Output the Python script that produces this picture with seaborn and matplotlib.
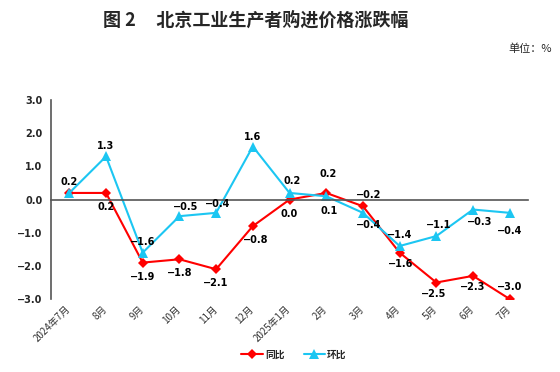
import matplotlib
matplotlib.use("Agg")
import matplotlib.pyplot as plt
import matplotlib.transforms as mtransforms
import seaborn as sns
import pandas as pd

categories = ["2024年7月", "8月", "9月", "10月", "11月", "12月", "2025年1月",
              "2月", "3月", "4月", "5月", "6月", "7月"]
yoy = [0.2, 0.2, -1.9, -1.8, -2.1, -0.8, 0.0, 0.2, -0.2, -1.6, -2.5, -2.3, -3.0]
mom = [0.2, 1.3, -1.6, -0.5, -0.4, 1.6, 0.2, 0.1, -0.4, -1.4, -1.1, -0.3, -0.4]

# label offsets in pixels (dx, dy) for each point
yoy_off = [(0, 11), (0, -14), (0, -14), (0, -14), (0, -14), (3, -14), (0, -14),
           (2, 19), (6, 11), (1, -11), (-3, -11), (0, -11), (0, 12)]
mom_off = [(0, 11), (0, 10), (0, 11), (6, 9), (2, 9), (0, 10), (3, 12),
           (3, -15), (6, -12), (0, 11), (2, 11), (7, -12), (0, -18)]

sns.set_theme(style="white")
plt.rcParams['font.family'] = ['Noto Sans CJK SC', 'DejaVu Sans']

df = pd.DataFrame({"x": list(range(len(categories))) * 2,
                   "v": yoy + mom,
                   "s": ["同比"] * len(yoy) + ["环比"] * len(mom)})

fig = plt.figure(figsize=(5.6, 3.72), dpi=100)
ax = fig.add_axes([0.091, 0.196, 0.852, 0.535])

red = "#FF0000"
cyan = "#1CC6F2"
sns.lineplot(data=df, x="x", y="v", hue="s", style="s",
             palette={"同比": red, "环比": cyan},
             markers={"同比": "D", "环比": "^"}, dashes=False,
             linewidth=1.5, ax=ax, legend=False,
             markeredgewidth=0)
for ln in ax.lines:
    if ln.get_marker() == "D":
        ln.set_markersize(5)
    else:
        ln.set_markersize(7)

ax.set_xlim(-0.5, len(categories) - 0.5)
ax.set_ylim(-3, 3)
ax.set_yticks([-3, -2, -1, 0, 1, 2, 3])
ax.set_yticklabels([f"{v:.1f}".replace("-", "−") for v in [-3, -2, -1, 0, 1, 2, 3]],
                   fontsize=7, fontweight="bold", family="DejaVu Sans")
ax.set_xlabel("")
ax.set_ylabel("")

for sp in ["top", "right"]:
    ax.spines[sp].set_visible(False)
ax.spines["left"].set_color("#555555")
ax.spines["left"].set_linewidth(1.2)
ax.spines["bottom"].set_position(("data", 0))
ax.spines["bottom"].set_color("#555555")
ax.spines["bottom"].set_linewidth(1.2)
ax.tick_params(axis="y", direction="inout", length=4, width=1, color="#555555", pad=4)
ax.set_xticks([i + 0.5 for i in range(len(categories))])
ax.set_xticklabels([])
ax.tick_params(axis="x", direction="in", length=4, width=1, color="#555555")

trans = mtransforms.offset_copy(ax.transData, fig=fig, x=3, y=-5, units="dots")
for i, c in enumerate(categories):
    ax.text(i, -3, c, rotation=45, ha="right", va="top", fontsize=7,
            transform=trans, color="#333333")

def fmt(v):
    return f"{v:.1f}".replace("-", "−")

for i, (v, o) in enumerate(zip(yoy, yoy_off)):
    ax.annotate(fmt(v), (i, v), xytext=o, textcoords="offset pixels",
                ha="center", va="center", fontsize=7, fontweight="bold",
                family="DejaVu Sans", color="black")
for i, (v, o) in enumerate(zip(mom, mom_off)):
    if i == 0 and v == yoy[0]:
        continue
    ax.annotate(fmt(v), (i, v), xytext=o, textcoords="offset pixels",
                ha="center", va="center", fontsize=7, fontweight="bold",
                family="DejaVu Sans", color="black")

from matplotlib.lines import Line2D
handles = [Line2D([], [], color=red, marker="D", markersize=5, lw=1.5, markeredgewidth=0),
           Line2D([], [], color=cyan, marker="^", markersize=7, lw=1.5, markeredgewidth=0)]
fig.legend(handles, ["同比", "环比"], loc="center", bbox_to_anchor=(0.525, 0.046),
           ncol=2, frameon=False, prop={"size": 7, "weight": "bold"},
           handlelength=2.2, handletextpad=0.2, columnspacing=2.0)

fig.text(0.457, 0.945, "图 2     北京工业生产者购进价格涨跌幅", ha="center", va="center",
         fontsize=13, fontweight="bold")
fig.text(0.985, 0.868, "单位：%", ha="right", va="center", fontsize=8)

fig.savefig("out.png", dpi=100)
